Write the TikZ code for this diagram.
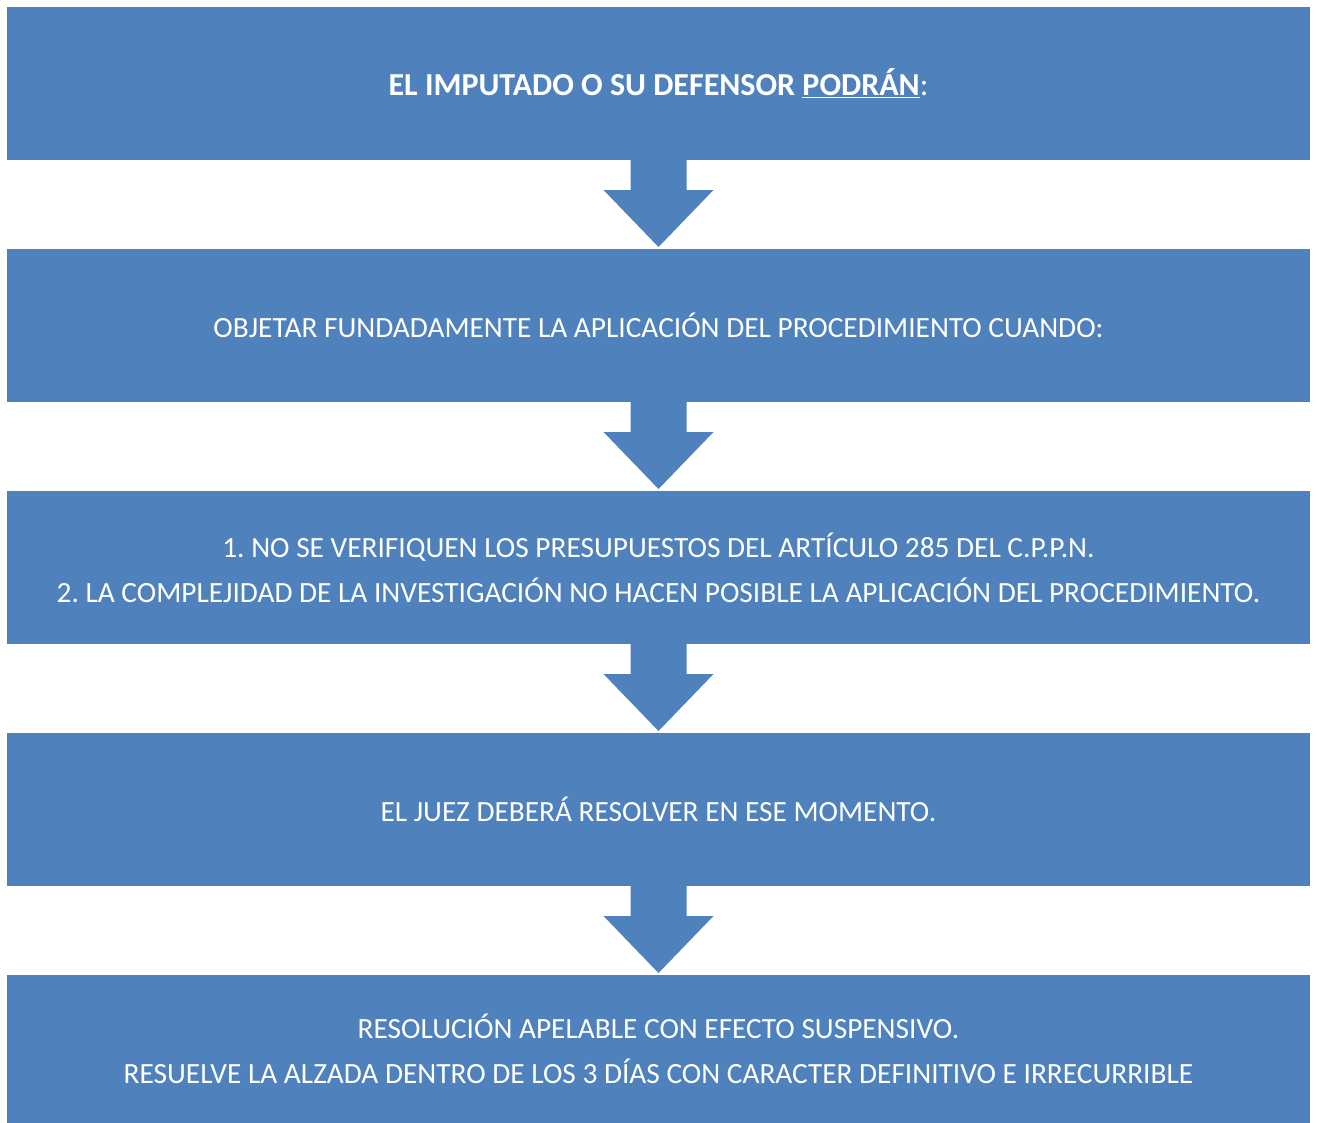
\documentclass[tikz,border=0pt]{standalone}
\usepackage{fontspec}
\setmainfont{Carlito}
\usetikzlibrary{positioning,calc}
\definecolor{boxblue}{HTML}{4F81BD}
\tikzset{
  stepbox/.style={fill=boxblue, text=white, minimum width=977.25pt, minimum height=114.75pt,
    inner sep=0pt, outer sep=0pt, align=center, font=\fontsize{22}{33.75}\selectfont},
}
\frenchspacing
\begin{document}
\begin{tikzpicture}[x=0.75pt,y=0.75pt,yscale=-1,xscale=1]
        \useasboundingbox (0,0) rectangle (1317,1122);

        % Boxes
        \node[stepbox, font=\fontsize{24}{33.75}\selectfont] (imputado) at (658.5,83.5) {\textbf{EL IMPUTADO O SU DEFENSOR \underline{PODRÁN}}:};
        \node[stepbox, below=66.75pt of imputado] (objetar) {OBJETAR FUNDADAMENTE LA APLICACIÓN DEL PROCEDIMIENTO CUANDO:};
        \node[stepbox, below=66.75pt of objetar] (causales) {1. NO SE VERIFIQUEN LOS PRESUPUESTOS DEL ARTÍCULO 285 DEL C.P.P.N.\\
        2. LA COMPLEJIDAD DE LA INVESTIGACIÓN NO HACEN POSIBLE LA APLICACIÓN DEL PROCEDIMIENTO.};
        \node[stepbox, below=66.75pt of causales] (juez) {EL JUEZ DEBERÁ RESOLVER EN ESE MOMENTO.};
        \node[stepbox, below=66.75pt of juez, minimum height=111pt] (apelable) {RESOLUCIÓN APELABLE CON EFECTO SUSPENSIVO.\\
        RESUELVE LA ALZADA DENTRO DE LOS 3 DÍAS CON CARACTER DEFINITIVO E IRRECURRIBLE};

        % Down arrows
        \foreach \a/\b in {imputado/objetar, objetar/causales, causales/juez, juez/apelable}
          \fill[boxblue] ($(\a.south)+(-28,0)$) -- ++(0,30) -- ++(-27,0)
            -- ($(\b.north)+(0,-2)$) -- ($(\a.south)+(55,30)$) -- ++(-27,0)
            -- ($(\a.south)+(28,0)$) -- cycle;

\end{tikzpicture}
\end{document}
